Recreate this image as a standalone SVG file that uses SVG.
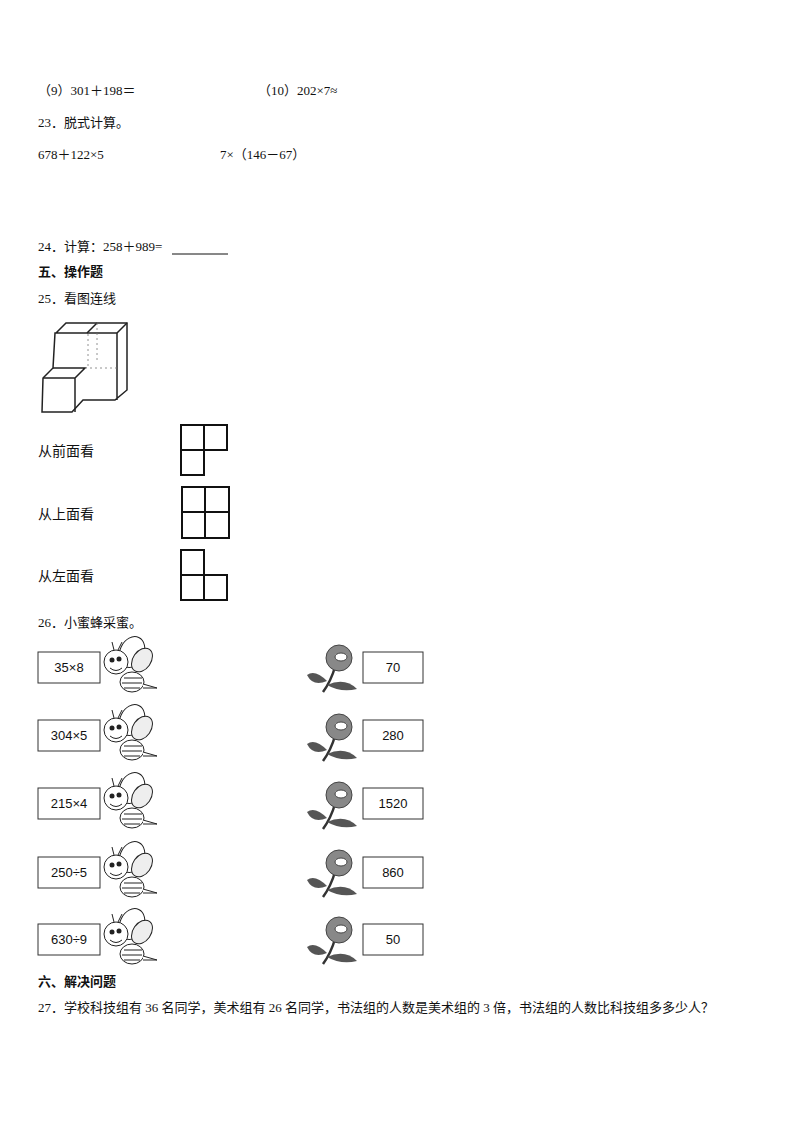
<svg xmlns="http://www.w3.org/2000/svg" width="794" height="1123" viewBox="0 0 794 1123">
<style>
text{font-family:"Liberation Serif","Noto Sans CJK SC",serif;font-size:13px;fill:#111}
.b{font-weight:bold}
.s{font-family:"Liberation Sans",sans-serif;font-size:13px}
.box{fill:#fff;stroke:#333;stroke-width:1}
.g{fill:none;stroke:#111;stroke-width:2}
.c{fill:none;stroke:#222;stroke-width:1.5}
.d{fill:none;stroke:#777;stroke-width:0.8;stroke-dasharray:2 3}
</style>
<defs>
<g id="bee">
<ellipse cx="30" cy="-14" rx="12" ry="16" fill="#fff" stroke="#222" transform="rotate(25 30 -14)"/>
<ellipse cx="40" cy="-6" rx="9" ry="13" fill="#eee" stroke="#222" transform="rotate(35 40 -6)"/>
<ellipse cx="30" cy="16" rx="12" ry="10" fill="#fff" stroke="#222"/>
<path d="M22 12h18M20 17h20M22 22h16" stroke="#222" fill="none"/>
<path d="M41 18l14 4l-14 0" fill="#fff" stroke="#222"/>
<ellipse cx="14" cy="-4" rx="12" ry="12" fill="#fff" stroke="#222"/>
<circle cx="10" cy="-6" r="2.5" fill="#222"/><circle cx="17" cy="-7" r="2.5" fill="#222"/>
<path d="M8 2q6 5 12 0" stroke="#222" fill="none"/>
<path d="M12 -16l-2 -8M16 -16l4 -8" stroke="#222"/>
</g>
<g id="flower">
<path d="M30 0q-4 14 -12 25" stroke="#333" stroke-width="2.5" fill="none"/>
<path d="M22 14q-12 -12 -20 -6q6 12 20 6z" fill="#555"/>
<path d="M22 18q18 -8 30 4q-16 4 -30 -4z" fill="#555"/>
<circle cx="34" cy="-9" r="13" fill="#888" stroke="#444"/>
<ellipse cx="36" cy="-10" rx="6" ry="4" fill="#fff" stroke="#444"/>
</g>
</defs>
<text x="38" y="95">（9）301＋198＝</text>
<text x="258" y="95">（10）202×7≈</text>
<text x="38" y="127">23．脱式计算。</text>
<text x="38" y="159">678＋122×5</text>
<text x="220" y="159">7×（146－67）</text>
<text x="38" y="251">24．计算：258＋989=</text>
<line x1="172" y1="254" x2="228" y2="254" stroke="#111"/>
<text x="38" y="276" class="b">五、操作题</text>
<text x="38" y="303">25．看图连线</text>
<g id="solid">
<path class="c" d="M56 333L66 323H127V390L115 400H83L72 412H42L43 378L53 368L55 333ZM56 333H117V400"/>
<path class="c" d="M117 333L127 323M87 333L97 323M43 378H75L85 368H53M75 378V412"/>
<path class="d" d="M88 334V368M97 323V360M85 368H117"/>
</g>
<text x="38" y="456" style="font-size:14px;font-family:'Noto Sans CJK SC',sans-serif">从前面看</text>
<text x="38" y="519" style="font-size:14px;font-family:'Noto Sans CJK SC',sans-serif">从上面看</text>
<text x="38" y="581" style="font-size:14px;font-family:'Noto Sans CJK SC',sans-serif">从左面看</text>
<g id="v1" class="g"><path d="M181 425H227V450H181ZM204 425V475H181V450"/></g>
<g id="v2" class="g"><path d="M182 487H229V538H182ZM205 487V538M182 512H229"/></g>
<g id="v3" class="g"><path d="M181 550H204V600H181ZM181 575H227V600H204"/></g>
<text x="38" y="627">26．小蜜蜂采蜜。</text>
<g id="r1"><rect class="box" x="38" y="652" width="62" height="31"/><text class="s" x="69" y="672" text-anchor="middle">35×8</text><use href="#bee" x="102" y="666"/><use href="#flower" x="305" y="667"/><rect class="box" x="363" y="652" width="60" height="31"/><text class="s" x="393" y="672" text-anchor="middle">70</text></g>
<g id="r2"><rect class="box" x="38" y="720" width="62" height="31"/><text class="s" x="69" y="740" text-anchor="middle">304×5</text><use href="#bee" x="102" y="734"/><use href="#flower" x="305" y="736"/><rect class="box" x="363" y="720" width="60" height="31"/><text class="s" x="393" y="740" text-anchor="middle">280</text></g>
<g id="r3"><rect class="box" x="38" y="788" width="62" height="31"/><text class="s" x="69" y="808" text-anchor="middle">215×4</text><use href="#bee" x="102" y="802"/><use href="#flower" x="305" y="804"/><rect class="box" x="363" y="788" width="60" height="31"/><text class="s" x="393" y="808" text-anchor="middle">1520</text></g>
<g id="r4"><rect class="box" x="38" y="857" width="62" height="31"/><text class="s" x="69" y="877" text-anchor="middle">250÷5</text><use href="#bee" x="102" y="871"/><use href="#flower" x="305" y="872"/><rect class="box" x="363" y="857" width="60" height="31"/><text class="s" x="393" y="877" text-anchor="middle">860</text></g>
<g id="r5"><rect class="box" x="38" y="924" width="62" height="31"/><text class="s" x="69" y="944" text-anchor="middle">630÷9</text><use href="#bee" x="102" y="938"/><use href="#flower" x="305" y="939"/><rect class="box" x="363" y="924" width="60" height="31"/><text class="s" x="393" y="944" text-anchor="middle">50</text></g>
<text x="38" y="986" class="b">六、解决问题</text>
<text x="38" y="1012">27．学校科技组有 36 名同学，美术组有 26 名同学，书法组的人数是美术组的 3 倍，书法组的人数比科技组多多少人？</text>
</svg>
